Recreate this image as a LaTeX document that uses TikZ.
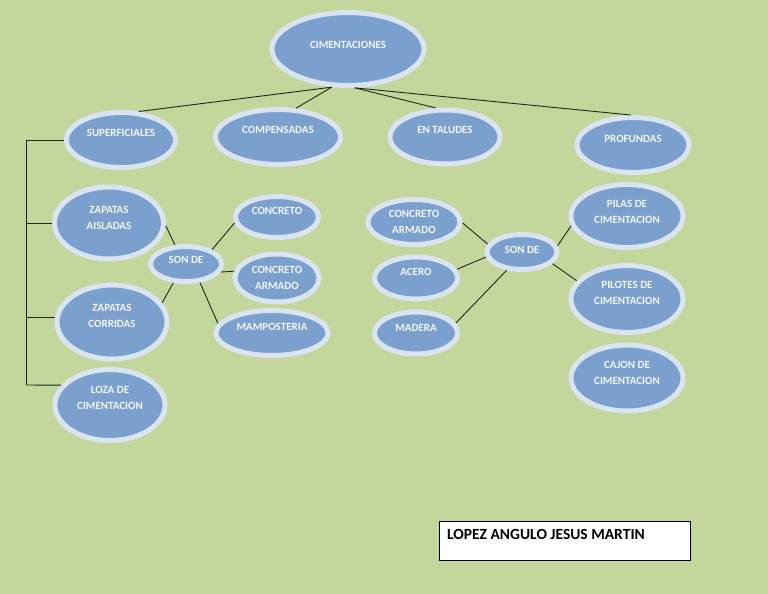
\documentclass[tikz,border=0pt]{standalone}
\usepackage{fontspec}
\setmainfont{Carlito}
\usetikzlibrary{shapes.geometric}
\definecolor{bg}{HTML}{C3D69B}
\definecolor{ellfill}{HTML}{7BA0CE}
\definecolor{ellborder}{HTML}{DAE4F1}
\definecolor{txtc}{HTML}{F2F5FA}
\definecolor{linec}{HTML}{1E2A1E}
\begin{document}
\begin{tikzpicture}[x=1pt,y=-1pt,
  ell/.style={ellipse, draw=ellborder, line width=5pt, fill=ellfill, inner sep=0pt},
  lab/.style={text=txtc, font=\fontsize{11}{16}\selectfont\bfseries, align=center},
  conn/.style={draw=linec, line width=0.9pt},
  namebox/.style={draw=black, fill=white, line width=0.9pt, minimum width=251pt, minimum height=39pt, inner sep=0pt},
  nametext/.style={font=\fontsize{15.5}{17}\selectfont\bfseries, text=black, anchor=west, inner sep=0pt}
]
\fill[bg] (0,0) rectangle (768,594);
\useasboundingbox (0,0) rectangle (768,594);

% top
\node[ell, minimum width=152pt, minimum height=73pt, label={[lab, yshift=4pt]center:CIMENTACIONES}] (cim) at (348,49) {};

% level 1
\node[ell, minimum width=109pt, minimum height=55pt, label={[lab, yshift=7pt]center:SUPERFICIALES}] (sup) at (121,140) {};
\node[ell, minimum width=125pt, minimum height=55pt, label={[lab, yshift=7pt]center:COMPENSADAS}] (comp) at (278,137) {};
\node[ell, minimum width=110pt, minimum height=54pt, label={[lab, yshift=7pt]center:EN TALUDES}] (tal) at (445,137) {};
\node[ell, minimum width=112pt, minimum height=55pt, label={[lab, yshift=6pt]center:PROFUNDAS}] (prof) at (633,145) {};

% left column
\node[ell, minimum width=109pt, minimum height=72pt, label={[lab, yshift=5pt]center:ZAPATAS\\AISLADAS}] (za) at (109,223) {};
\node[ell, minimum width=110pt, minimum height=74pt, label={[lab, yshift=6pt]center:ZAPATAS\\CORRIDAS}] (zc) at (112,322) {};
\node[ell, minimum width=110pt, minimum height=71pt, label={[lab, yshift=7pt]center:LOZA DE\\CIMENTACION}] (loza) at (110,405) {};

% left son de group
\node[ell, minimum width=71pt, minimum height=35pt, label={[lab, yshift=4pt]center:SON DE}] (sonl) at (186,264) {};
\node[ell, minimum width=83pt, minimum height=41pt, label={[lab, yshift=6pt]center:CONCRETO}] (conc) at (277,217) {};
\node[ell, minimum width=84pt, minimum height=48pt, label={[lab, yshift=0pt]center:CONCRETO\\ARMADO}] (cal) at (277,278) {};
\node[ell, minimum width=112pt, minimum height=45pt, label={[lab, yshift=6pt]center:MAMPOSTERIA}] (mamp) at (272,333) {};

% right son de group
\node[ell, minimum width=92pt, minimum height=45pt, label={[lab, yshift=0pt]center:CONCRETO\\ARMADO}] (car) at (414,222) {};
\node[ell, minimum width=70pt, minimum height=35pt, label={[lab, yshift=2pt]center:SON DE}] (sonr) at (522,252) {};
\node[ell, minimum width=83pt, minimum height=42pt, label={[lab, yshift=6pt]center:ACERO}] (acero) at (416,278) {};
\node[ell, minimum width=83pt, minimum height=42pt, label={[lab, yshift=5pt]center:MADERA}] (madera) at (416,333) {};

% right column
\node[ell, minimum width=112pt, minimum height=63pt, label={[lab, yshift=4pt]center:PILAS DE\\CIMENTACION}] (pilas) at (627,216) {};
\node[ell, minimum width=112pt, minimum height=67pt, label={[lab, yshift=6.5pt]center:PILOTES DE\\CIMENTACION}] (pilotes) at (627,299) {};
\node[ell, minimum width=112pt, minimum height=66pt, label={[lab, yshift=5.5pt]center:CAJON DE\\CIMENTACION}] (cajon) at (627,378) {};

% name box
\node[namebox] (nb) at (564.5,540.5) {};
\node[nametext] (nt) at (447,534.5) {LOPEZ ANGULO JESUS MARTIN};

% connectors from top
\draw[conn] (cim.247) -- (sup.58);
\draw[conn] (cim.247) -- (comp.58);
\draw[conn] (cim.280) -- (tal.108);
\draw[conn] (cim.280) -- (prof.94);

% left bracket
\coordinate (bb) at (26,385);
\draw[conn] (bb) |- (sup.west);
\draw[conn] (bb) |- (za.west);
\draw[conn] (bb) |- (zc.175);
\draw[conn] (bb) -- (loza.158);

% left son de
\draw[conn] (za.-3) -- (sonl.120);
\draw[conn] (conc.188) -- (sonl.29);
\draw[conn] (sonl.-13) -- (cal.171);
\draw[conn] (sonl.-53) -- (mamp.170);
\draw[conn] (zc.21) -- (sonl.236);

% right son de
\draw[conn] (car.-1) -- (sonr.167);
\draw[conn] (acero.12) -- (sonr.188);
\draw[conn] (madera.14) -- (sonr.230);
\draw[conn] (sonr.10) -- (pilas.190);
\draw[conn] (sonr.-21) -- (pilotes.160);
\end{tikzpicture}
\end{document}
